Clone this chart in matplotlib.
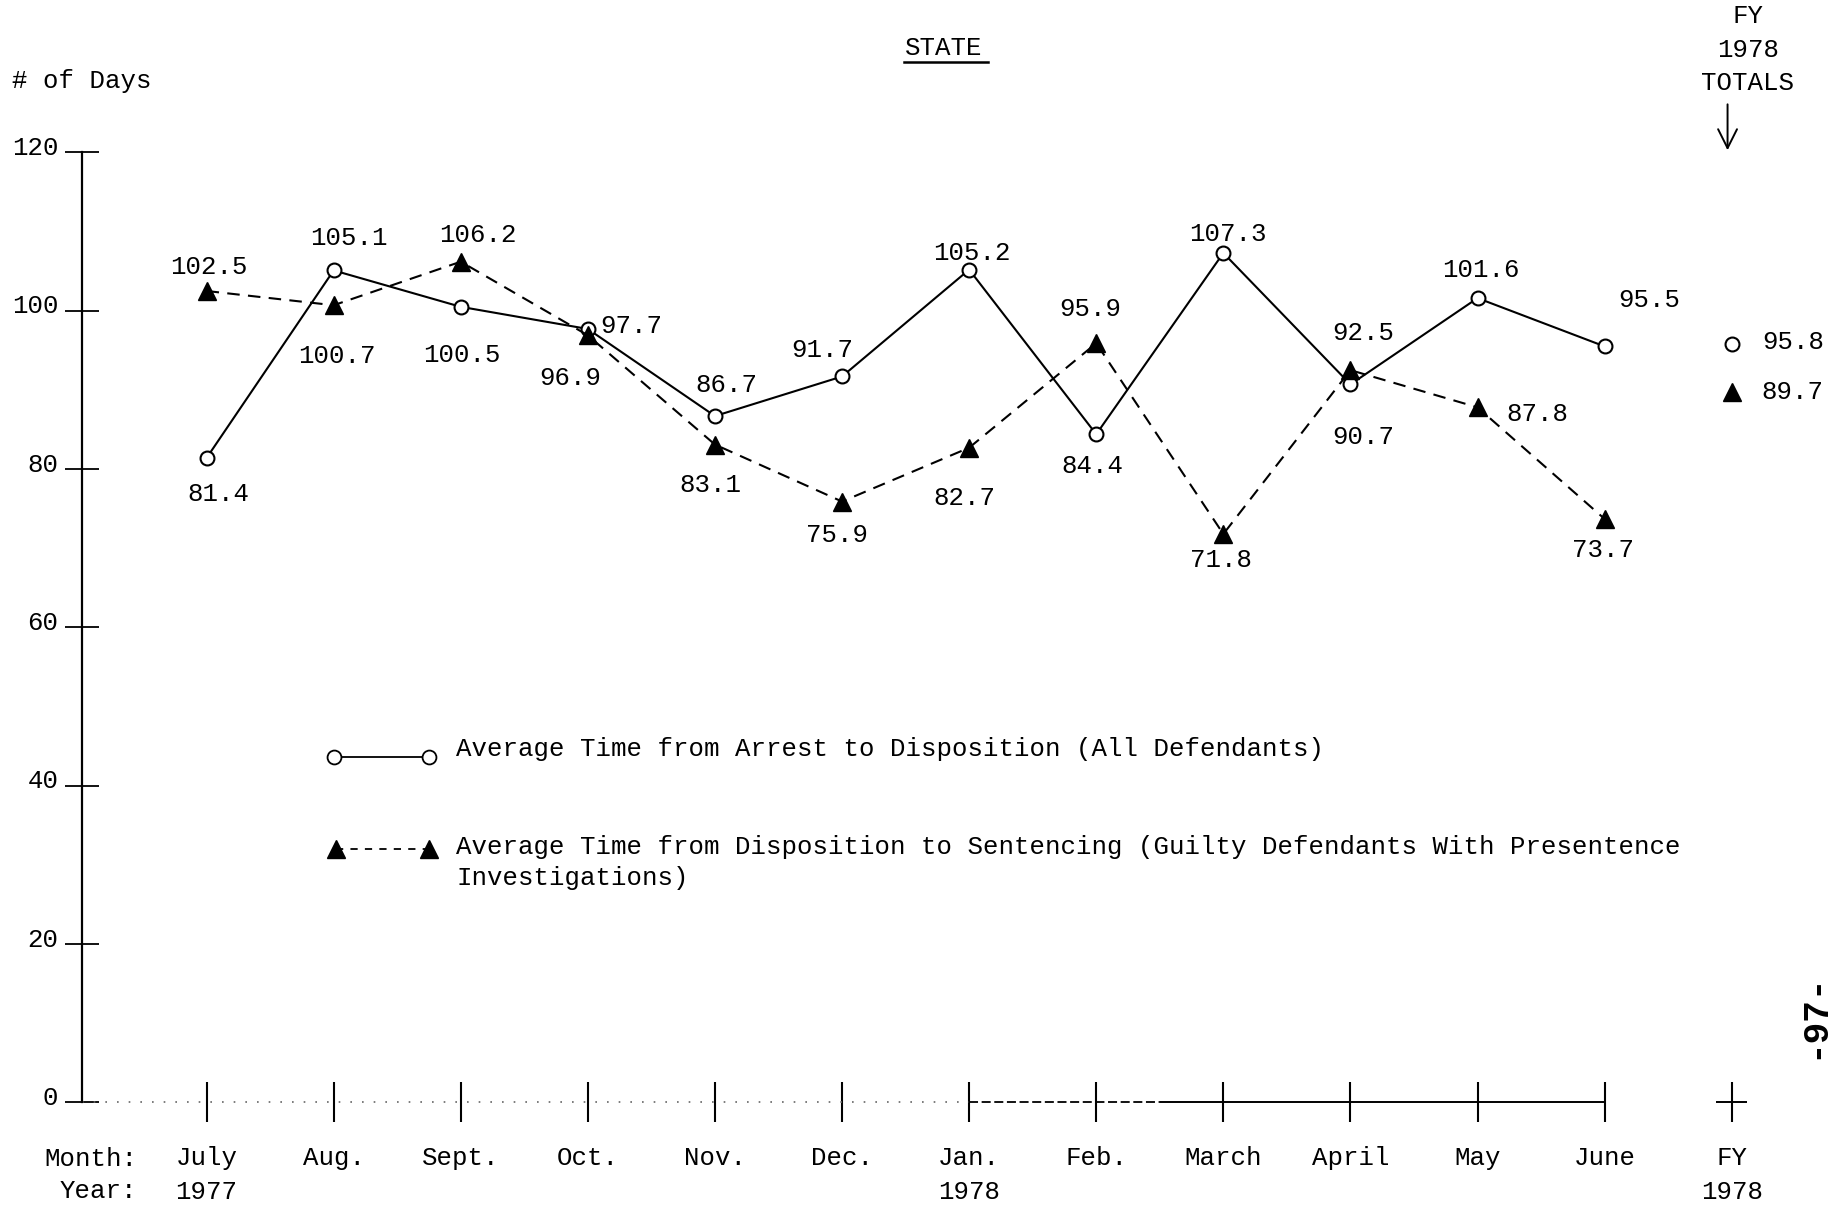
import numpy as np
import matplotlib
matplotlib.use('Agg')
from matplotlib import pyplot as plt
from matplotlib import transforms
from matplotlib.lines import Line2D

plt.rcParams['font.family'] = ['Liberation Mono', 'DejaVu Sans Mono']

# data
months = ['July', 'Aug.', 'Sept.', 'Oct.', 'Nov.', 'Dec.', 'Jan.', 'Feb.',
          'March', 'April', 'May', 'June']
years = ['1977', '', '', '', '', '', '1978', '', '', '', '', '']
arrest_disp = [81.4, 105.1, 100.5, 97.7, 86.7, 91.7, 105.2, 84.4, 107.3, 90.7, 101.6, 95.5]
disp_sent = [102.5, 100.7, 106.2, 96.9, 83.1, 75.9, 82.7, 95.9, 71.8, 92.5, 87.8, 73.7]
fy_arrest = 95.8
fy_sent = 89.7
yticks = [0, 20, 40, 60, 80, 100, 120]

# label offsets (points) for each value label
off_c = [(8.5, -26), (11, 23), (1, -35), (31, 2), (8.5, 22), (-14, 19), (2, 12),
         (-2.5, -23), (3.5, 14), (9, -38), (2.5, 20), (32, 33.5)]
off_t = [(2, 17), (2, -36.5), (12.5, 19), (-12.5, -31), (-3.5, -29), (-3.5, -24),
         (-3.5, -36), (-4, 25), (-1.5, -19), (9, 27), (43, -4.5), (-1, -22)]

fs = 18.5
fig = plt.figure(figsize=(18.39, 12.09), dpi=100)
ax = fig.add_axes([0.04459, 0.0882, 0.95541, 0.7857])
ax.set_xlim(-0.98, 12.844)
ax.set_ylim(0, 120)
for s in ['top', 'right', 'bottom']:
    ax.spines[s].set_visible(False)
ax.spines['left'].set_linewidth(1.6)

x = np.arange(len(months))
fyx = len(months)

# series
ax.plot(x, arrest_disp, '-', color='black', lw=1.5, marker='o', ms=10,
        mfc='white', mec='black', mew=1.5, zorder=3)
ax.plot(x, disp_sent, color='black', lw=1.5, ls=(0, (6, 4)), marker='^', ms=13,
        mfc='black', mec='black', zorder=3)
ax.plot([fyx], [fy_arrest], 'o', ms=10, mfc='white', mec='black', mew=1.5, clip_on=False)
ax.plot([fyx], [fy_sent], '^', ms=13, color='black', clip_on=False)

for i in range(len(months)):
    ax.annotate(f'{arrest_disp[i]:.1f}', (x[i], arrest_disp[i]), xytext=off_c[i],
                textcoords='offset points', ha='center', va='center', fontsize=fs)
    ax.annotate(f'{disp_sent[i]:.1f}', (x[i], disp_sent[i]), xytext=off_t[i],
                textcoords='offset points', ha='center', va='center', fontsize=fs)
ax.annotate(f'{fy_arrest:.1f}', (fyx, fy_arrest), xytext=(44, 1.5),
            textcoords='offset points', ha='center', va='center', fontsize=fs)
ax.annotate(f'{fy_sent:.1f}', (fyx, fy_sent), xytext=(44, 0),
            textcoords='offset points', ha='center', va='center', fontsize=fs)

# baseline: faint dotted on the left, solid from Jan on
ax.hlines(0, -0.98, 6, colors='#666666', lw=1.2, linestyles=(0, (1, 6)), clip_on=False)
ax.hlines(0, 6, 7.5, colors='black', lw=1.3, linestyles=(0, (5, 2)), clip_on=False)
ax.hlines(0, 7.5, 11, colors='black', lw=1.4, clip_on=False)
ax.hlines(0, fyx - 0.12, fyx + 0.12, colors='black', lw=1.4, clip_on=False)

# ticks
ax.set_xticks(list(x) + [fyx])
ax.set_xticklabels([m + ('\n' + y if y else '') for m, y in zip(months, years)] + ['FY\n1978'],
                   fontsize=fs, linespacing=1.5)
ax.tick_params(axis='x', direction='inout', length=29, width=1.5, pad=17)
ax.set_yticks(yticks)
ax.set_yticklabels([str(v) for v in yticks], fontsize=fs)
ax.tick_params(axis='y', direction='inout', length=24, width=1.3, pad=5)
shift = transforms.ScaledTranslation(0, 5 / 72, fig.dpi_scale_trans)
for lab in ax.get_yticklabels():
    lab.set_transform(lab.get_transform() + shift)

# legend drawn by hand
ax.plot([1.0, 1.75], [43.6, 43.6], '-', color='black', lw=1.3, marker='o', ms=10,
        mfc='white', mec='black', mew=1.3)
ax.text(1.966, 44.6, 'Average Time from Arrest to Disposition (All Defendants)',
        fontsize=fs, va='center')
ax.plot([1.02, 1.75], [32.0, 32.0], color='black', lw=1.3, ls=(0, (4, 4)), marker='^',
        ms=13, mfc='black', mec='black')
ax.text(1.966, 30.3, 'Average Time from Disposition to Sentencing (Guilty Defendants With Presentence\n'
        'Investigations)', fontsize=fs, va='center', linespacing=1.4)

# header texts
fig.text(0.0065, 0.933, '# of Days', fontsize=fs, va='center', ha='left')
fig.text(0.5133, 0.960, 'STATE', fontsize=fs, va='center', ha='center')
fig.add_artist(Line2D([0.4916, 0.5373], [0.9487, 0.9487], color='black', lw=1.8))
fig.text(0.9505, 0.9590, 'FY\n1978\nTOTALS', fontsize=fs, va='center', ha='center',
         linespacing=1.5)
ax.annotate('', xy=(0.9394, 0.8734), xytext=(0.9394, 0.9160), xycoords='figure fraction',
            textcoords='figure fraction',
            arrowprops=dict(arrowstyle='->', color='black', lw=1.4, mutation_scale=34))

# month / year row captions
fig.text(0.0745, 1 - 1159 / 1209, 'Month:', fontsize=fs, va='center', ha='right')
fig.text(0.0745, 1 - 1191 / 1209, 'Year:', fontsize=fs, va='center', ha='right')

# page number in margin
fig.text(0.986, 0.16, '-97-', fontsize=26, rotation=90, va='center', ha='center',
         fontweight='bold')

fig.savefig('out.png', dpi=100)
